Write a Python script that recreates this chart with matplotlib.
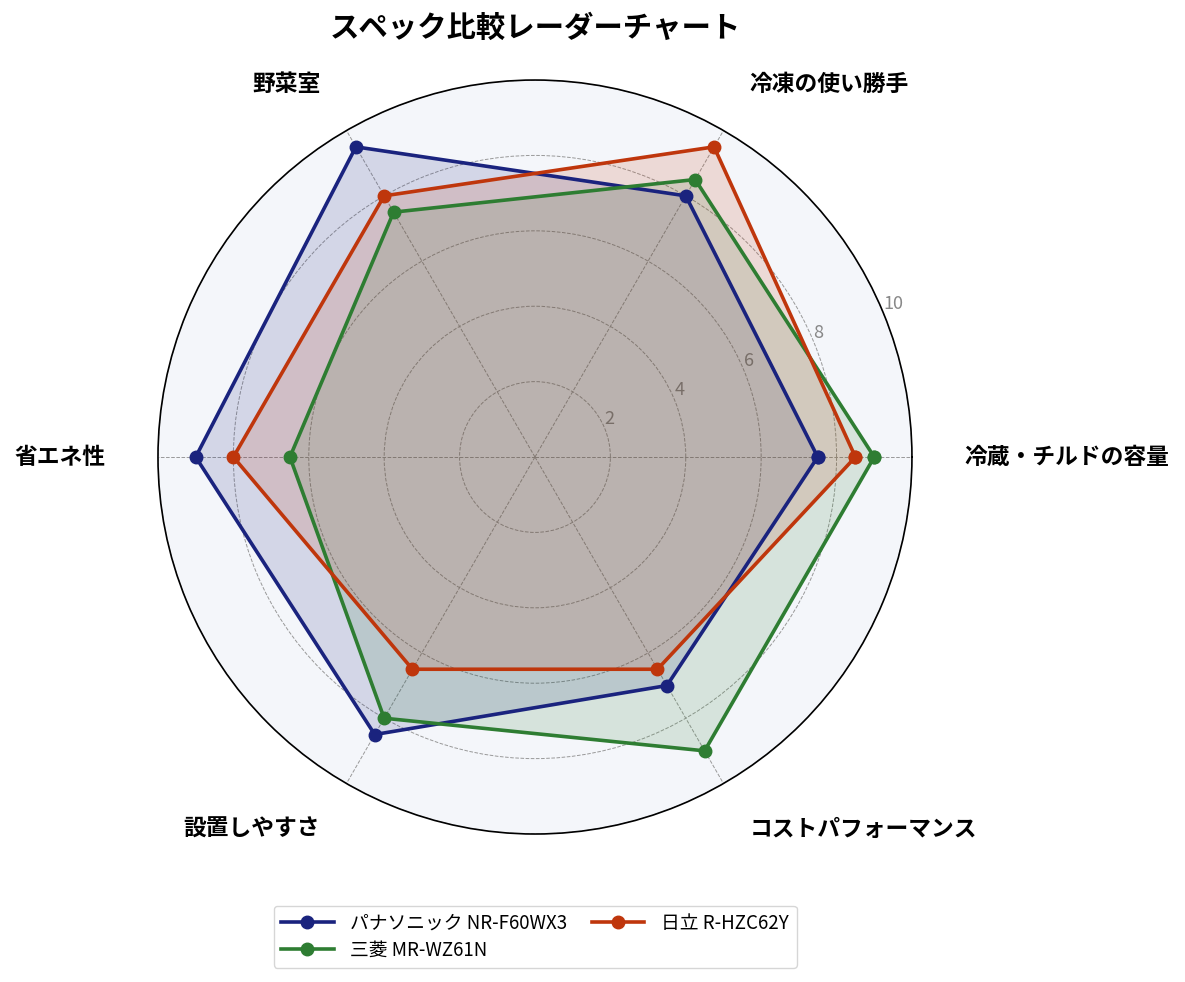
import numpy as np
import matplotlib
matplotlib.use("Agg")
import matplotlib.pyplot as plt

plt.rcParams['font.family'] = ['Noto Sans CJK JP', 'DejaVu Sans']

categories = ["冷蔵・チルドの容量", "冷凍の使い勝手", "野菜室", "省エネ性", "設置しやすさ", "コストパフォーマンス"]
series_names = ["パナソニック NR-F60WX3", "三菱 MR-WZ61N", "日立 R-HZC62Y"]
panasonic = [7.5, 8.0, 9.5, 9.0, 8.5, 7.0]
mitsubishi = [9.0, 8.5, 7.5, 6.5, 8.0, 9.0]
hitachi = [8.5, 9.5, 8.0, 8.0, 6.5, 6.5]
colors = ["#1a237e", "#2e7d32", "#bf360c"]
r_ticks = [2, 4, 6, 8, 10]
r_tick_labels = ["2", "4", "6", "8", "10"]

fig = plt.figure(figsize=(11.85, 9.82), dpi=100)
ax = fig.add_axes([0.1333, 0.1507, 0.6363, 0.7678], projection='polar')
ax.set_facecolor("#f4f6fa")

n = len(categories)
angles = np.linspace(0, 2 * np.pi, n, endpoint=False)
angles_closed = np.concatenate([angles, angles[:1]])

for name, vals, c in zip(series_names, [panasonic, mitsubishi, hitachi], colors):
    v = np.concatenate([vals, vals[:1]])
    ax.plot(angles_closed, v, color=c, lw=2.6, marker='o', markersize=9, label=name, zorder=3)
    ax.fill(angles_closed, v, color=c, alpha=0.15, zorder=2)

ax.set_ylim(0, 10)
ax.set_yticks(r_ticks)
ax.set_yticklabels(r_tick_labels, color="#888888", fontsize=13)
ax.set_rlabel_position(22.5)
ax.set_xticks(angles)
ax.set_xticklabels([])
ax.grid(True, color="#999999", linestyle='--', linewidth=0.7)
ax.spines['polar'].set_color('black')
ax.spines['polar'].set_linewidth(1.2)

for ang, lab in zip(angles, categories):
    deg = np.degrees(ang)
    if abs(deg) < 1:
        ha = 'left'
    elif abs(deg - 180) < 1:
        ha = 'right'
    elif deg < 90 or deg > 270:
        ha = 'left'
    else:
        ha = 'right'
    ax.text(ang, 11.4, lab, ha=ha, va='center', fontsize=16.4, fontweight='bold', clip_on=False)

fig.text(0.4515, 0.972, "スペック比較レーダーチャート", ha='center', va='center',
         fontsize=21.2, fontweight='bold')

leg = fig.legend(loc='center', bbox_to_anchor=(0.4515, 0.046), ncol=2, fontsize=13.5,
                 frameon=True, handlelength=2.8, columnspacing=1.3, handletextpad=0.9,
                 borderpad=0.4, labelspacing=0.3)
leg.get_frame().set_edgecolor('#cccccc')

fig.savefig("out.png", dpi=100)
